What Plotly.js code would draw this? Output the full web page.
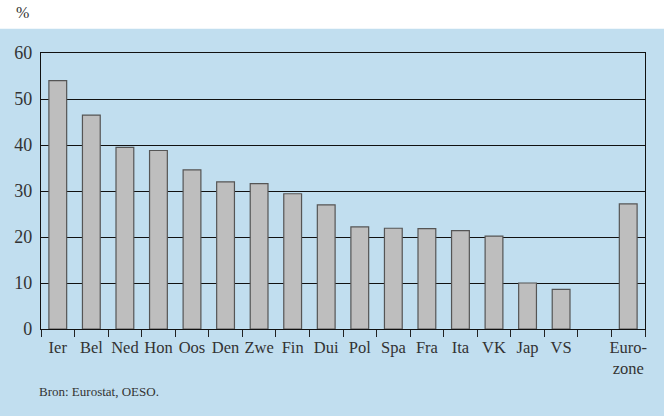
<!DOCTYPE html>
<html>
<head>
<meta charset="utf-8">
<script src="https://cdn.plot.ly/plotly-3.0.1.min.js"></script>
<style>html,body{margin:0;padding:0;background:#fff;}#chart{width:664px;height:416px;}</style>
</head>
<body>
<div id="chart"></div>
<script>
const categories = ["Ier","Bel","Ned","Hon","Oos","Den","Zwe","Fin","Dui","Pol","Spa","Fra","Ita","VK","Jap","VS"," ","Euro-<br>zone"];
const values = [54.0, 46.5, 39.5, 38.8, 34.6, 32.0, 31.6, 29.4, 27.0, 22.2, 21.9, 21.8, 21.4, 20.2, 10.0, 8.6, null, 27.2];
const yTicks = [0, 10, 20, 30, 40, 50, 60];
const unitLabel = "%";
const sourceText = "Bron: Eurostat, OESO.";

const FONT = "'Liberation Serif', 'DejaVu Serif', serif";
const BLUE = "#c1deef";

const trace = {
  type: "bar",
  x: categories,
  y: values,
  marker: { color: "#bebebe", line: { color: "#555555", width: 1.2 } },
  hoverinfo: "skip"
};

const layout = {
  width: 664, height: 416,
  margin: { l: 41, r: 19, t: 53, b: 87 },
  paper_bgcolor: BLUE,
  plot_bgcolor: "rgba(0,0,0,0)",
  bargap: 0.47,
  showlegend: false,
  font: { family: FONT, color: "#333" },
  xaxis: {
    type: "category",
    categoryorder: "array",
    categoryarray: categories,
    tickson: "boundaries",
    tickangle: 0,
    ticks: "outside", ticklen: 7, tickwidth: 1, tickcolor: "#222",
    ticklabelstandoff: 3,
    showgrid: false,
    showline: true, linecolor: "#111", linewidth: 1.2, mirror: true,
    tickfont: { family: FONT, size: 16.5, color: "#333" },
    fixedrange: true
  },
  yaxis: {
    range: [0, 60],
    tickvals: yTicks,
    ticks: "",
    showgrid: true, gridcolor: "#111", gridwidth: 1,
    zeroline: false,
    showline: true, linecolor: "#111", linewidth: 1.2, mirror: true,
    tickfont: { family: FONT, size: 18, color: "#333" },
    ticklabelstandoff: 4,
    fixedrange: true
  },
  shapes: [
    { type: "rect", xref: "paper", yref: "paper", x0: -0.1, x1: 1.1, y0: 1.0875, y1: 1.3,
      fillcolor: "#ffffff", line: { width: 0 }, layer: "below" }
  ],
  annotations: [
    { xref: "paper", yref: "paper", x: -0.045, y: 1.145, xanchor: "left", yanchor: "middle",
      text: unitLabel, showarrow: false, font: { family: FONT, size: 16, color: "#333" } },
    { xref: "paper", yref: "paper", x: -0.006, y: -0.225, xanchor: "left", yanchor: "middle",
      text: sourceText, showarrow: false, font: { family: FONT, size: 13, color: "#333" } }
  ]
};

Plotly.newPlot("chart", [trace], layout, { displayModeBar: false, staticPlot: true });
</script>
</body>
</html>
